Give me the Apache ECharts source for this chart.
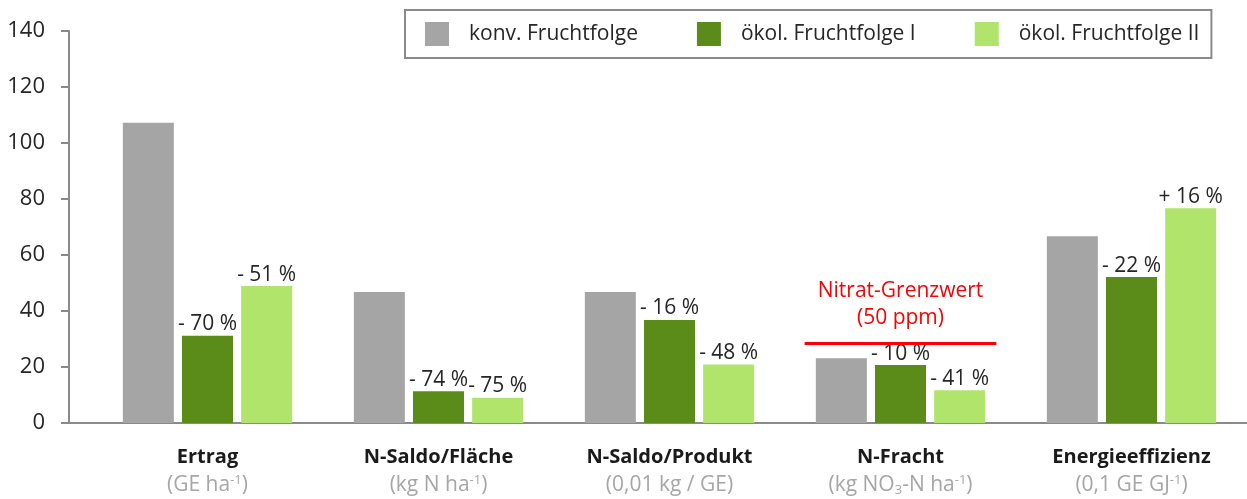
<!DOCTYPE html>
<html>
<head>
<meta charset="utf-8">
<script src="https://cdn.jsdelivr.net/npm/echarts@6/dist/echarts.min.js"></script>
<style>
  html, body { margin: 0; padding: 0; background: #ffffff; }
  #chart { width: 1247px; height: 499px; }
</style>
</head>
<body>
<div id="chart"></div>
<script>
// Indicators compared across the three crop rotations
const categories = ['Ertrag', 'N-Saldo/Fläche', 'N-Saldo/Produkt', 'N-Fracht', 'Energieeffizienz'];
// Unit line under each indicator (rich-text markup for super/subscripts)
const units = [
  '{u|(GE ha}{sup|-1}{u|)}',
  '{u|(kg N ha}{sup|-1}{u|)}',
  '{u|(0,01 kg / GE)}',
  '{u|(kg NO}{sub|3}{u|-N ha}{sup|-1}{u|)}',
  '{u|(0,1 GE GJ}{sup|-1}{u|)}'
];

const seriesNames = ['konv. Fruchtfolge', 'ökol. Fruchtfolge I', 'ökol. Fruchtfolge II'];
const konv   = [107.2, 46.8, 46.8, 23.1, 66.7];
const oekoI  = [31.2, 11.3, 36.8, 20.7, 52.1];
const oekoII = [48.9, 9.0, 20.9, 11.7, 76.7];

// Relative change against the conventional rotation
const changeI  = ['- 70 %', '- 74 %', '- 16 %', '- 10 %', '- 22 %'];
const changeII = ['- 51 %', '- 75 %', '- 48 %', '- 41 %', '+ 16 %'];

// Nitrate limit drawn over the N-Fracht group
const nitrateCategory = 3;
const nitrateLimit = 28.4;
const nitrateText = 'Nitrat-Grenzwert\n(50 ppm)';

const yTicks = { min: 0, max: 140, interval: 20 };

const FONT = 'Open Sans';
const colors = ['#a5a5a5', '#5b8c1a', '#b0e46a'];

const chart = echarts.init(document.getElementById('chart'), null, { renderer: 'canvas' });

function changeLabel(texts) {
  return {
    show: true,
    position: 'top',
    distance: 1,
    fontFamily: FONT,
    fontSize: 21,
    color: '#262626',
    formatter: p => texts[p.dataIndex]
  };
}

const option = {
  animation: false,
  backgroundColor: '#ffffff',
  textStyle: { fontFamily: FONT },
  color: colors,
  grid: { left: 92, right: 0, top: 31, bottom: 74, containLabel: false },
  legend: {
    data: seriesNames,
    left: 405,
    top: 10,
    padding: [12, 12, 12, 20],
    itemWidth: 24,
    itemHeight: 24,
    itemGap: 59,
    icon: 'rect',
    borderColor: '#8a8a8a',
    borderWidth: 2,
    textStyle: { fontFamily: FONT, fontSize: 21, color: '#262626', padding: [0, 0, 0, 15] }
  },
  xAxis: {
    type: 'category',
    data: categories,
    axisLine: { show: true, lineStyle: { color: '#8a8a8a', width: 2 } },
    axisTick: { show: false },
    axisLabel: {
      margin: 20,
      interval: 0,
      formatter: (v, i) => '{name|' + v + '}\n' + units[i],
      rich: {
        name: { fontFamily: FONT, fontSize: 20, fontWeight: 'bold', color: '#1a1a1a', lineHeight: 28 },
        u: { fontFamily: FONT, fontSize: 21, color: '#a6a6a6', lineHeight: 28 },
        sup: { fontFamily: FONT, fontSize: 13, color: '#a6a6a6', lineHeight: 28, verticalAlign: 'top', padding: [3, 0, 0, 0] },
        sub: { fontFamily: FONT, fontSize: 13, color: '#a6a6a6', lineHeight: 28, verticalAlign: 'bottom', padding: [0, 0, 2, 0] }
      }
    }
  },
  yAxis: {
    type: 'value',
    min: yTicks.min,
    max: yTicks.max,
    interval: yTicks.interval,
    offset: 23,
    splitLine: { show: false },
    axisLine: { show: true, lineStyle: { color: '#8a8a8a', width: 2 } },
    axisTick: { show: true, length: 8, lineStyle: { color: '#8a8a8a', width: 2 } },
    axisLabel: { fontFamily: FONT, fontSize: 22, color: '#262626', margin: 24 }
  },
  series: [
    { name: seriesNames[0], type: 'bar', data: konv, barWidth: 51, barGap: '16%' },
    { name: seriesNames[1], type: 'bar', data: oekoI, barWidth: 51, barGap: '16%', label: changeLabel(changeI) },
    { name: seriesNames[2], type: 'bar', data: oekoII, barWidth: 51, barGap: '16%', label: changeLabel(changeII) },
    {
      name: 'Nitrat-Grenzwert',
      type: 'custom',
      data: [[nitrateCategory, nitrateLimit]],
      z: 5,
      renderItem: function (params, api) {
        const c = api.coord([api.value(0), api.value(1)]);
        const band = api.size([1, 0])[0];
        const half = band * 0.415;
        return {
          type: 'group',
          children: [
            {
              type: 'line',
              shape: { x1: c[0] - half, y1: c[1], x2: c[0] + half, y2: c[1] },
              style: { stroke: '#ff0000', lineWidth: 3 }
            },
            {
              type: 'text',
              style: {
                text: nitrateText,
                x: c[0],
                y: c[1] - 12,
                align: 'center',
                verticalAlign: 'bottom',
                fill: '#ff0000',
                fontFamily: FONT,
                fontSize: 21,
                lineHeight: 27
              }
            }
          ]
        };
      }
    }
  ]
};

chart.setOption(option);

// The horizontal axis line continues left to meet the offset value axis
const zero = chart.convertToPixel({ gridIndex: 0 }, [0, 0]);
const gridLeft = option.grid.left;
chart.setOption({
  graphic: [{
    type: 'line',
    shape: { x1: gridLeft - option.yAxis.offset, y1: zero[1], x2: gridLeft, y2: zero[1] },
    style: { stroke: '#8a8a8a', lineWidth: 2 },
    z: 10
  }]
});
</script>
</body>
</html>
